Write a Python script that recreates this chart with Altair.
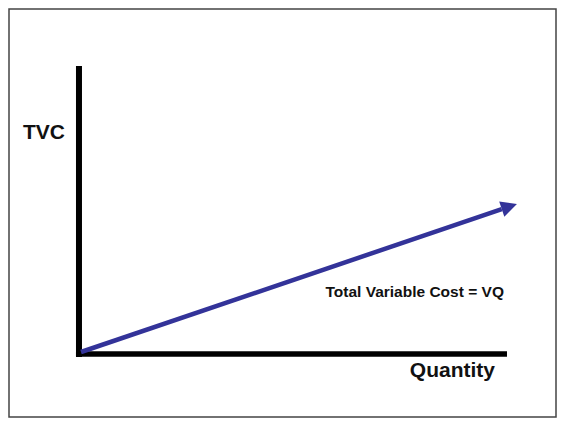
import altair as alt
import pandas as pd

# ---- data ----
line_q = [0.0, 9.65]          # quantity along the TVC line (to the arrowhead base)
line_tvc = [0.0, 9.65]        # total variable cost
head_q = [9.65]
head_tvc = [9.65]

vaxis_q = [-0.046]
vaxis_tvc = [19.32, -0.34]
haxis_tvc = [-0.135]
haxis_q = [-0.115, 9.77]

label_text = ["TVC", "Quantity", "Total Variable Cost = VQ"]
label_q = [-1.33, 9.495, 9.70]
label_tvc = [14.39, -1.69, 3.72]

XDOM = [-1.651, 10.894]
YDOM = [-4.392, 23.176]
BLUE = "#333399"
FONT = "Liberation Sans"

xs = alt.Scale(domain=XDOM, nice=False, zero=False)
ys = alt.Scale(domain=YDOM, nice=False, zero=False)


def X(field="q"):
    return alt.X(f"{field}:Q", scale=xs, axis=None)


def Y(field="tvc"):
    return alt.Y(f"{field}:Q", scale=ys, axis=None)


line_df = pd.DataFrame({"q": line_q, "tvc": line_tvc})
head_df = pd.DataFrame({"q": head_q, "tvc": head_tvc})
vax_df = pd.DataFrame({"q": vaxis_q, "tvc": [vaxis_tvc[0]], "tvc2": [vaxis_tvc[1]]})
hax_df = pd.DataFrame({"q": [haxis_q[0]], "q2": [haxis_q[1]], "tvc": haxis_tvc})
lab_df = pd.DataFrame({"text": label_text, "q": label_q, "tvc": label_tvc})

vaxis = alt.Chart(vax_df).mark_rule(color="black", strokeWidth=6, strokeCap="butt").encode(
    x=X(), y=Y(), y2="tvc2:Q"
)
haxis = alt.Chart(hax_df).mark_rule(color="black", strokeWidth=5.5, strokeCap="butt").encode(
    x=X(), x2="q2:Q", y=Y()
)
line = alt.Chart(line_df).mark_line(color=BLUE, strokeWidth=4.5, strokeCap="butt").encode(
    x=X(), y=Y()
)
head = alt.Chart(head_df).mark_point(
    shape="M0,-1L0.5,0L-0.5,0Z", size=1024, angle=71.25, filled=True,
    color=BLUE, opacity=1, strokeWidth=0
).encode(x=X(), y=Y())

tvc_lab = alt.Chart(lab_df[lab_df.text == "TVC"]).mark_text(
    font=FONT, fontSize=21, fontWeight="bold", align="left", baseline="alphabetic", color="#111"
).encode(x=X(), y=Y(), text="text:N")
q_lab = alt.Chart(lab_df[lab_df.text == "Quantity"]).mark_text(
    font=FONT, fontSize=21, fontWeight="bold", align="right", baseline="alphabetic", color="#111"
).encode(x=X(), y=Y(), text="text:N")
eq_lab = alt.Chart(lab_df[lab_df.text == "Total Variable Cost = VQ"]).mark_text(
    font=FONT, fontSize=15.5, fontWeight="bold", align="right", baseline="alphabetic", color="#111"
).encode(x=X(), y=Y(), text="text:N")

chart = alt.layer(vaxis, haxis, line, head, tvc_lab, q_lab, eq_lab).properties(
    width=549, height=410, padding=1,
    autosize=alt.AutoSizeParams(type="fit", contains="padding"),
    background="white",
).configure_view(stroke="#444444", strokeWidth=1.5)

chart.save("out.html", embed_options={"renderer": "svg", "actions": False})
